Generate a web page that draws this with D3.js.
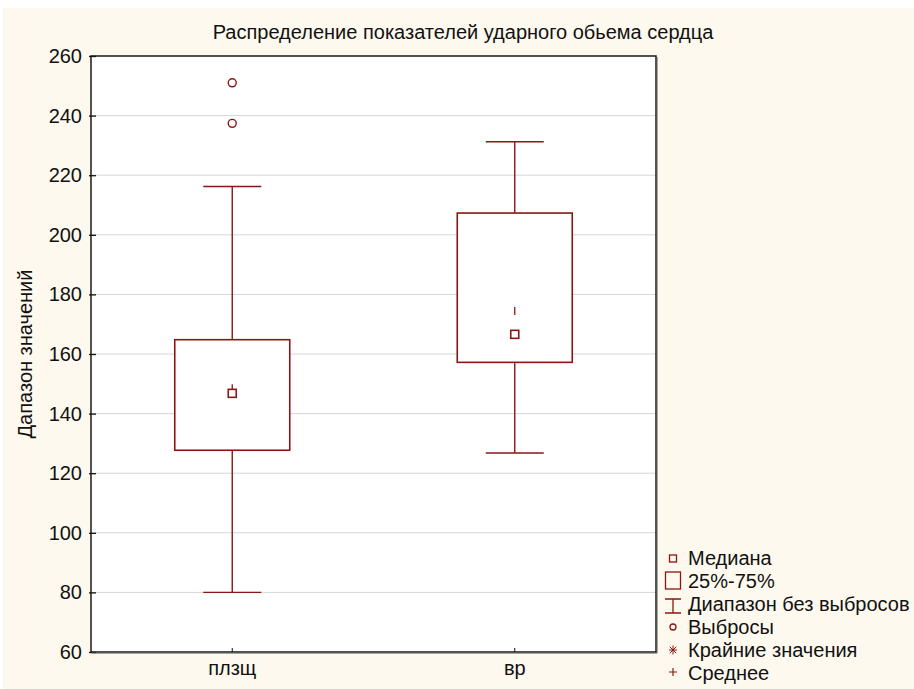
<!DOCTYPE html>
<html>
<head>
<meta charset="utf-8">
<script src="https://cdn.jsdelivr.net/npm/d3@7/dist/d3.min.js"></script>
<style>
  html, body { margin: 0; padding: 0; background: #ffffff; }
  svg { display: block; }
  text { font-family: Arial, "Liberation Sans", sans-serif; fill: #111; }
</style>
</head>
<body>
<svg id="chart" width="914" height="689"></svg>
<script>
// Stroke-volume distribution, by group
const categories = ["плзщ", "вр"];
const whiskerLow  = [80.0, 126.8];
const q1          = [127.7, 157.2];
const median      = [146.8, 166.6];
const q3          = [164.8, 207.3];
const whiskerHigh = [216.2, 231.2];
const mean        = [148.5, 174.4];
const outliers    = [[251.0, 237.4], []];
const yTicks      = [60, 80, 100, 120, 140, 160, 180, 200, 220, 240, 260];
const legendLabels = ["Медиана", "25%-75%", "Диапазон без выбросов", "Выбросы", "Крайние значения", "Среднее"];

const title = "Распределение показателей ударного обьема сердца";
const yTitle = "Дапазон значений";

const red = "#8e1414";
const FONT = "Arial, 'Liberation Sans', sans-serif";
const svg = d3.select("#chart");
const W = 914, H = 689;
const plot = { left: 91, right: 656, top: 56, bottom: 652 };

// page background
svg.append("rect").attr("x", 3).attr("y", 8).attr("width", W - 3).attr("height", H - 8)
  .attr("fill", "#fdf9ee");

const x = d3.scaleBand().domain(categories).range([plot.left, plot.right]);
const y = d3.scaleLinear().domain([60, 260]).range([plot.bottom, plot.top]);

// plot area
svg.append("rect").attr("x", plot.left).attr("y", plot.top)
  .attr("width", plot.right - plot.left).attr("height", plot.bottom - plot.top)
  .attr("fill", "#ffffff");

// horizontal grid
svg.append("g").selectAll("line").data(yTicks.slice(1, -1)).join("line")
  .attr("x1", plot.left).attr("x2", plot.right)
  .attr("y1", d => y(d)).attr("y2", d => y(d))
  .attr("stroke", "#d6d6d6").attr("stroke-width", 1);

// y axis
const yAxis = d3.axisLeft(y).tickValues(yTicks).tickSize(-5).tickPadding(9);
const gy = svg.append("g").attr("transform", `translate(${plot.left},0)`).call(yAxis);
gy.select(".domain").remove();
gy.selectAll(".tick line").attr("stroke", "#111").attr("stroke-width", 1.3)
  .attr("x1", -2);
gy.selectAll(".tick text").style("font-size", "20px").attr("fill", "#111")
  .style("font-family", FONT);

// x axis
const xAxis = d3.axisBottom(x).tickSize(-4).tickPadding(9);
const gx = svg.append("g").attr("transform", `translate(0,${plot.bottom})`).call(xAxis);
gx.select(".domain").remove();
gx.selectAll(".tick line").attr("stroke", "#111").attr("stroke-width", 1);
gx.selectAll(".tick text").style("font-size", "20px").attr("fill", "#111")
  .style("font-family", FONT);

// boxes
const boxW = 115, capW = 58;
const groups = svg.append("g").selectAll("g").data(categories).join("g")
  .attr("transform", d => `translate(${x(d) + x.bandwidth() / 2},0)`);

groups.append("line").attr("x1", 0).attr("x2", 0)
  .attr("y1", (d, i) => y(whiskerLow[i])).attr("y2", (d, i) => y(whiskerHigh[i]))
  .attr("stroke", red).attr("stroke-width", 1.4);
groups.append("line").attr("x1", -capW / 2).attr("x2", capW / 2)
  .attr("y1", (d, i) => y(whiskerLow[i])).attr("y2", (d, i) => y(whiskerLow[i]))
  .attr("stroke", red).attr("stroke-width", 1.4);
groups.append("line").attr("x1", -capW / 2).attr("x2", capW / 2)
  .attr("y1", (d, i) => y(whiskerHigh[i])).attr("y2", (d, i) => y(whiskerHigh[i]))
  .attr("stroke", red).attr("stroke-width", 1.4);
groups.append("rect").attr("x", -boxW / 2).attr("width", boxW)
  .attr("y", (d, i) => y(q3[i])).attr("height", (d, i) => y(q1[i]) - y(q3[i]))
  .attr("fill", "#ffffff").attr("stroke", red).attr("stroke-width", 1.6);

// mean marker
groups.append("line").attr("x1", 0).attr("x2", 0)
  .attr("y1", (d, i) => y(mean[i]) - 4).attr("y2", (d, i) => y(mean[i]) + 4)
  .attr("stroke", red).attr("stroke-width", 1.3);

// median marker
groups.append("rect").attr("x", -4).attr("width", 8).attr("height", 8)
  .attr("y", (d, i) => y(median[i]) - 4)
  .attr("fill", "#ffffff").attr("stroke", red).attr("stroke-width", 1.6);

// outliers
groups.each(function (d, i) {
  d3.select(this).selectAll("circle").data(outliers[i]).join("circle")
    .attr("cx", 0).attr("cy", v => y(v)).attr("r", 4)
    .attr("fill", "none").attr("stroke", red).attr("stroke-width", 1.4);
});

// frame
svg.append("rect").attr("x", plot.left).attr("y", plot.top)
  .attr("width", plot.right - plot.left).attr("height", plot.bottom - plot.top)
  .attr("fill", "none").attr("stroke", "#1a1a1a").attr("stroke-width", 1.5);
svg.append("path")
  .attr("d", `M${plot.left + 1},${plot.bottom + 1}H${plot.right + 1}V${plot.top + 1}`)
  .attr("fill", "none").attr("stroke", "#555").attr("stroke-width", 1);

// titles
svg.append("text").attr("x", 463).attr("y", 39).attr("text-anchor", "middle")
  .style("font-size", "20px").text(title);
svg.append("text").attr("transform", "translate(32,354) rotate(-90)")
  .attr("text-anchor", "middle").style("font-size", "20px").text(yTitle);

// legend
const lg = svg.append("g");
const baselines = [565, 588, 611, 634, 657, 680];
const lx = 673;
lg.selectAll("text").data(legendLabels).join("text")
  .attr("x", 688).attr("y", (d, i) => baselines[i])
  .style("font-size", "20px").text(d => d);
const stroke = sel => sel.attr("fill", "none").attr("stroke", red).attr("stroke-width", 1.3);
// median
lg.append("rect").attr("x", lx - 3.5).attr("y", 555).attr("width", 7).attr("height", 7).call(stroke);
// interquartile box
lg.append("rect").attr("x", lx - 7.5).attr("y", 572).attr("width", 15).attr("height", 17).call(stroke);
// whisker range
lg.append("path").attr("d", `M${lx},599V613M${lx - 8},599H${lx + 8}M${lx - 8},613H${lx + 8}`).call(stroke);
// outliers
lg.append("circle").attr("cx", lx).attr("cy", 627).attr("r", 3).call(stroke);
// extremes
lg.append("path").attr("d", `M${lx - 4},650H${lx + 4}M${lx},645.5V654.5M${lx - 3.2},646.8L${lx + 3.2},653.2M${lx + 3.2},646.8L${lx - 3.2},653.2`)
  .attr("fill", "none").attr("stroke", red).attr("stroke-width", 1);
// mean
lg.append("path").attr("d", `M${lx - 4},672H${lx + 4}M${lx},668V676`)
  .attr("fill", "none").attr("stroke", red).attr("stroke-width", 1.2);
</script>
</body>
</html>
